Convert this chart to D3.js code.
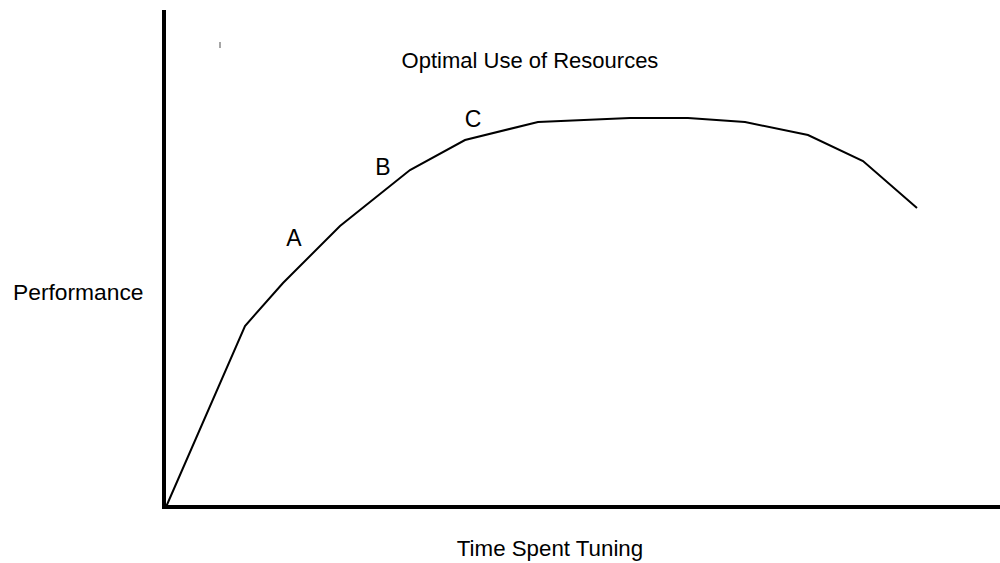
<!DOCTYPE html>
<html>
<head>
<meta charset="utf-8">
<script src="https://cdn.jsdelivr.net/npm/d3@7/dist/d3.min.js"></script>
<style>
  html, body { margin: 0; padding: 0; background: #fff; }
  svg { display: block; }
  text { font-family: Arial, "Liberation Sans", sans-serif; fill: #000; }
</style>
</head>
<body>
<svg id="chart" width="1000" height="563"></svg>
<script>
// Data (arbitrary units)
const timeSpent = [0, 79, 117, 174, 244, 299, 372, 464, 522, 579, 642, 697, 751];
const performance = [0, 181, 224, 281, 337, 367, 385, 389, 389, 385, 372, 346, 299];
const pointLabels = ["A", "B", "C"];
const labelTime = [128, 217, 307];
const labelPerf = [261, 332, 380];
const title = "Optimal Use of Resources";
const yTitle = "Performance";
const xTitle = "Time Spent Tuning";

const svg = d3.select("#chart");
const x = d3.scaleLinear().domain([0, 834]).range([166, 1000]);
const y = d3.scaleLinear().domain([0, 497]).range([507, 10]);

// Axes
svg.append("line")
  .attr("x1", x(0) - 2).attr("x2", x(0) - 2)
  .attr("y1", y(497)).attr("y2", y(0) + 2)
  .attr("stroke", "#000").attr("stroke-width", 4);
svg.append("line")
  .attr("x1", x(0) - 4).attr("x2", x(834))
  .attr("y1", y(0)).attr("y2", y(0))
  .attr("stroke", "#000").attr("stroke-width", 4);

// Small stray tick near top
svg.append("line")
  .attr("x1", x(54)).attr("x2", x(54))
  .attr("y1", y(465)).attr("y2", y(459))
  .attr("stroke", "#888").attr("stroke-width", 1.5);

// Curve
const pts = timeSpent.map((t, i) => [t, performance[i]]);
svg.append("path")
  .datum(pts)
  .attr("fill", "none")
  .attr("stroke", "#000")
  .attr("stroke-width", 2)
  .attr("stroke-linejoin", "miter")
  .attr("d", d3.line().x(d => x(d[0])).y(d => y(d[1])));

// Point labels
svg.selectAll("text.pl")
  .data(pointLabels)
  .enter().append("text")
  .attr("class", "pl")
  .attr("x", (d, i) => x(labelTime[i]))
  .attr("y", (d, i) => y(labelPerf[i]))
  .attr("text-anchor", "middle")
  .attr("font-size", 23)
  .text(d => d);

// Titles
svg.append("text")
  .attr("x", 530).attr("y", 68)
  .attr("text-anchor", "middle")
  .attr("font-size", 22)
  .text(title);
svg.append("text")
  .attr("x", 13).attr("y", 300)
  .attr("font-size", 22.8)
  .text(yTitle);
svg.append("text")
  .attr("x", 550).attr("y", 556)
  .attr("text-anchor", "middle")
  .attr("font-size", 22.3)
  .text(xTitle);
</script>
</body>
</html>
